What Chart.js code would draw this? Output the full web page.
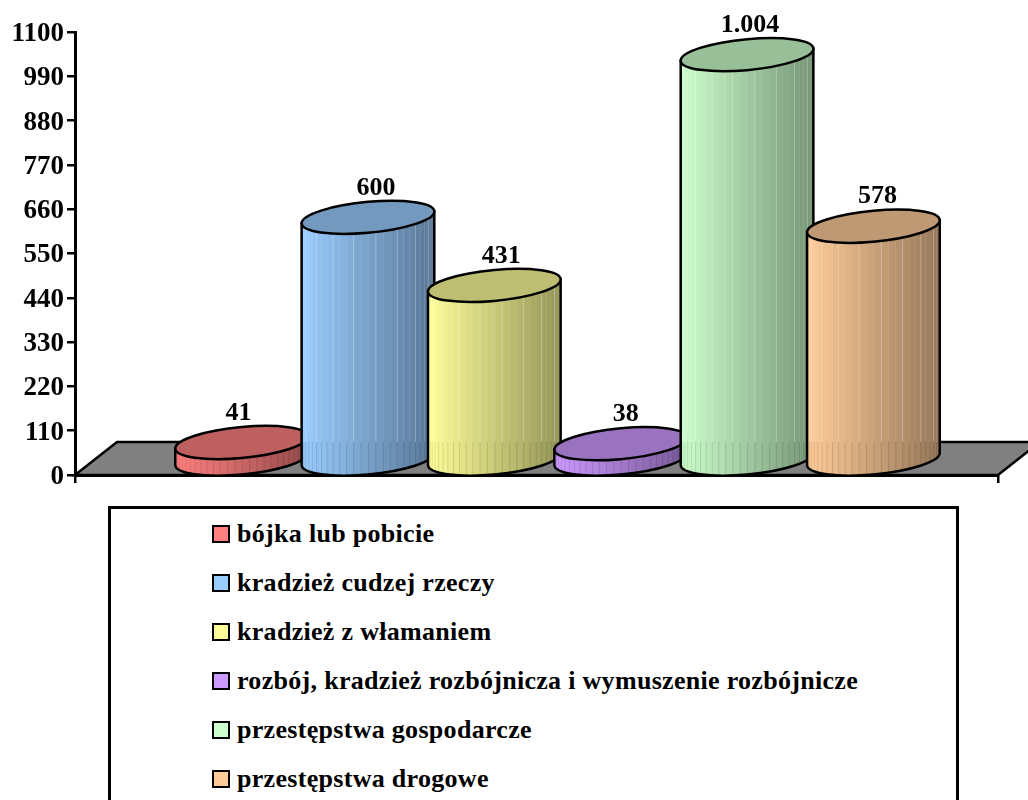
<!DOCTYPE html>
<html lang="pl">
<head>
<meta charset="utf-8">
<title>Przestępstwa</title>
<script src="https://cdn.jsdelivr.net/npm/chart.js@4/dist/chart.umd.min.js"></script>
<style>
    html, body { margin: 0; padding: 0; background: #fff; overflow: hidden; height: 800px; }
    #chartBox { position: absolute; left: 0; top: 0; width: 1028px; height: 500px; }
    #legendBox {
        position: absolute; left: 108px; top: 506px; width: 845px; height: 330px;
        border: 3px solid #000; font: bold 26px "Liberation Serif", serif; letter-spacing: 0.3px; color: #000;
    }
    .legend-row { position: absolute; left: 101px; height: 49px; display: flex; align-items: center; white-space: nowrap; }
    .legend-swatch { width: 14px; height: 14px; border: 2.5px solid #000; margin-right: 7px; }
</style>
</head>
<body>
<div id="chartBox"><canvas id="mainChart" width="1028" height="500"></canvas></div>
<div id="legendBox"></div>
<script>
// --- DATA ---
const seriesNames = ['bójka lub pobicie', 'kradzież cudzej rzeczy', 'kradzież z włamaniem',
    'rozbój, kradzież rozbójnicza i wymuszenie rozbójnicze', 'przestępstwa gospodarcze', 'przestępstwa drogowe'];
const seriesValues = [41, 600, 431, 38, 1004, 578];
const seriesColors = ['#ff8080', '#99ccff', '#ffff99', '#cc99ff', '#ccffcc', '#ffcc99'];
const tickStep = 110;
const tickMax = 1100;

// --- 3D LOOK ---
const depthX = 42, depthY = 33;     // floor depth
const lift = 16;                    // bars stand in the middle of the floor
const tilt = 0.09;                  // slope of the ellipses
const ellipseH = 15.5;
const labelShift = [-3, 8, 7, 5, 3, 4];

function shade(hex, f) {
    const n = parseInt(hex.slice(1), 16);
    return `rgb(${Math.round((n >> 16) * f)},${Math.round(((n >> 8) & 255) * f)},${Math.round((n & 255) * f)})`;
}

function ellipsePath(ctx, cx, cy, a, b, from, to, ccw) {
    ctx.save();
    ctx.transform(1, -tilt, 0, 1, cx, cy);
    ctx.ellipse(0, 0, a, b, 0, from, to, ccw);
    ctx.restore();
}

function drawCylinder(ctx, cx, topY, baseY, a, color, floorBack) {
    const edge = a * tilt;

    // body
    ctx.save();
    ctx.beginPath();
    ctx.moveTo(cx - a, topY + edge);
    ctx.lineTo(cx - a, baseY + edge);
    ellipsePath(ctx, cx, baseY, a, ellipseH, Math.PI, 0, true);
    ctx.lineTo(cx + a, topY - edge);
    ctx.closePath();
    ctx.save();
    ctx.clip();
    const strips = 28;
    const top = topY - edge - ellipseH, bottom = baseY + edge + ellipseH + 4;
    for (let i = 0; i < strips; i++) {
        const x0 = cx - a * Math.cos(Math.PI * i / strips);
        const x1 = cx - a * Math.cos(Math.PI * (i + 1) / strips);
        const t = ((x0 + x1) / 2 - (cx - a)) / (2 * a);
        ctx.fillStyle = shade(color, 1 - 0.42 * t);
        ctx.fillRect(x0, top, x1 - x0 + 0.6, bottom - top);
        if (i > 1) {
            ctx.fillStyle = i % 3 === 0 ? 'rgba(255,255,255,0.3)' : 'rgba(255,255,255,0.1)';
            ctx.fillRect(x0, top, 1, floorBack - top);
            ctx.fillStyle = 'rgba(0,0,0,0.1)';
            ctx.fillRect(x0, floorBack, 1, bottom - floorBack);
        }
    }
    ctx.restore();
    ctx.lineWidth = 2.5;
    ctx.strokeStyle = '#000';
    ctx.stroke();

    // lid
    ctx.beginPath();
    ellipsePath(ctx, cx, topY, a, ellipseH, 0, Math.PI * 2);
    ctx.fillStyle = shade(color, 0.75);
    ctx.fill();
    ctx.stroke();
    ctx.restore();
}

const cylinderPlugin = {
    id: 'cylinders',
    beforeDatasetsDraw(chart) {
        const { ctx, chartArea: area, scales: { y } } = chart;
        const y0 = y.getPixelForValue(0);
        ctx.save();
        ctx.beginPath();
        ctx.moveTo(area.left, y0);
        ctx.lineTo(area.left + depthX, y0 - depthY);
        ctx.lineTo(area.right + depthX, y0 - depthY);
        ctx.lineTo(area.right, y0);
        ctx.closePath();
        ctx.fillStyle = '#808080';
        ctx.fill();
        ctx.lineWidth = 2.5;
        ctx.strokeStyle = '#000';
        ctx.stroke();
        ctx.restore();
    },
    // the default flat bars are replaced by the cylinders below
    beforeDatasetDraw() {
        return false;
    },
    afterDatasetsDraw(chart) {
        const { ctx, scales: { y } } = chart;
        const y0 = y.getPixelForValue(0);
        const floorBack = y0 - depthY;
        seriesValues.forEach((value, i) => {
            const bar = chart.getDatasetMeta(i).data[0];
            const cx = bar.x + depthX / 2;
            const a = bar.width * 0.525;
            drawCylinder(ctx, cx, bar.y - lift, y0 - lift, a, seriesColors[i], floorBack);
        });
        ctx.save();
        ctx.fillStyle = '#000';
        ctx.font = 'bold 26px "Liberation Serif", serif';
        ctx.textAlign = 'center';
        ctx.textBaseline = 'middle';
        seriesValues.forEach((value, i) => {
            const bar = chart.getDatasetMeta(i).data[0];
            const label = String(value).replace(/\B(?=(\d{3})+$)/g, '.');
            ctx.fillText(label, bar.x + depthX / 2 + labelShift[i], bar.y - lift - 29.5);
        });
        ctx.restore();
    }
};

// --- LEGEND ---
function buildLegend() {
    const box = document.getElementById('legendBox');
    seriesNames.forEach((name, i) => {
        box.innerHTML += `<div class="legend-row" style="top:${i * 49}px">
            <span class="legend-swatch" style="background:${seriesColors[i]}"></span>${name}</div>`;
    });
}

// --- CHART ---
document.addEventListener('DOMContentLoaded', () => {
    buildLegend();
    new Chart(document.getElementById('mainChart').getContext('2d'), {
        type: 'bar',
        data: {
            labels: [''],
            datasets: seriesNames.map((name, i) => ({
                label: name,
                data: [seriesValues[i]],
                backgroundColor: seriesColors[i],
                categoryPercentage: 0.8214,
                barPercentage: 1
            }))
        },
        options: {
            responsive: false,
            animation: false,
            layout: { padding: { left: 0, right: 30, top: 32, bottom: 17 } },
            plugins: { legend: { display: false }, tooltip: { enabled: false } },
            scales: {
                x: {
                    afterFit: scale => { scale.height = 8; },
                    border: { color: '#000', width: 3 },
                    grid: { color: '#000', lineWidth: 2.5, drawOnChartArea: false, tickLength: 8 },
                    ticks: { display: false }
                },
                y: {
                    min: 0,
                    max: tickMax,
                    afterFit: scale => { scale.width = 75; scale.paddingTop = 0; scale.paddingBottom = 0; },
                    border: { color: '#000', width: 3 },
                    grid: { color: '#000', lineWidth: 2.5, drawOnChartArea: false, tickLength: 8 },
                    ticks: {
                        stepSize: tickStep,
                        color: '#000',
                        padding: 3,
                        labelOffset: 2,
                        callback: value => String(value),
                        font: { family: '"Liberation Serif", serif', size: 27, weight: 'bold' }
                    }
                }
            }
        },
        plugins: [cylinderPlugin]
    });
});
</script>
</body>
</html>
